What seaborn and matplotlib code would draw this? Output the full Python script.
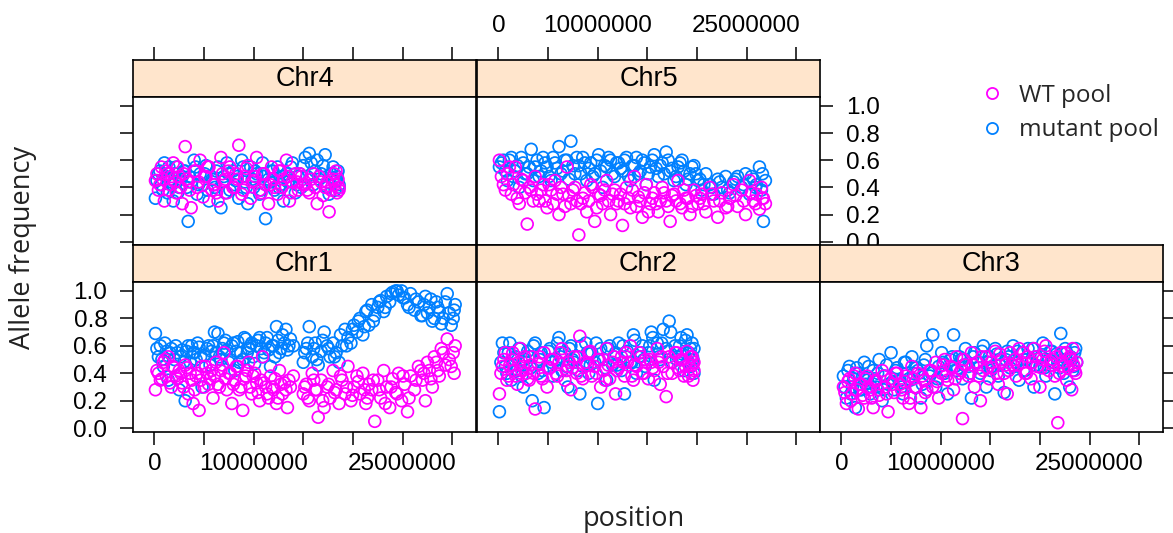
import numpy as np
import pandas as pd
import matplotlib
matplotlib.use("Agg")
import matplotlib.pyplot as plt
import seaborn as sns
from matplotlib.lines import Line2D

sns.set_theme(style="white")
plt.rcParams['font.family'] = ['Liberation Sans', 'DejaVu Sans']

# ---------------- data ----------------
chromosomes = ["Chr1", "Chr2", "Chr3", "Chr4", "Chr5"]
pool_names = ["WT pool", "mutant pool"]

# SNP positions in Mb
chr1_pos = [0.1, 0.4, 0.6, 0.9, 1.2, 1.4, 1.7, 2.0, 2.3, 2.5,
            2.8, 3.1, 3.4, 3.6, 3.9, 4.2, 4.5, 4.8, 5.0, 5.3,
            5.6, 5.9, 6.2, 6.4, 6.7, 7.0, 7.3, 7.5, 7.8, 8.1,
            8.4, 8.7, 8.9, 9.2, 9.5, 9.8, 10.1, 10.3, 10.6, 10.9,
            11.2, 11.5, 11.7, 12.0, 12.3, 12.6, 12.9, 13.1, 13.4, 13.7,
            14.0, 15.0, 15.3, 15.6, 15.9, 16.2, 16.5, 16.8, 17.1, 17.4,
            17.7, 18.0, 18.3, 18.6, 18.9, 19.2, 19.5, 19.8, 20.1, 20.4,
            20.7, 21.0, 21.3, 21.6, 21.9, 22.2, 22.5, 22.8, 23.1, 23.4,
            23.7, 24.0, 24.3, 24.6, 24.9, 25.2, 25.5, 25.8, 26.2, 26.6,
            27.0, 27.3, 27.7, 28.0, 28.4, 28.7, 29.1, 29.5, 29.9, 30.3,
            0.25, 0.75, 1.05, 1.55, 1.85, 2.15, 2.65, 2.95, 3.25, 3.75,
            4.05, 4.35, 4.65, 5.15, 5.45, 5.75, 6.05, 6.55, 6.85, 7.15,
            7.65, 7.95, 8.25, 8.55, 9.05, 9.35, 9.65, 9.95, 10.45, 10.75,
            11.05, 11.35, 11.85, 12.15, 12.45, 12.75, 13.25, 13.55, 15.15, 15.45,
            16.05, 16.35, 16.95, 17.55, 18.15, 18.75, 19.35, 19.95, 20.55, 21.15,
            21.45, 22.05, 22.65, 23.25, 23.85, 24.45, 25.05, 25.65, 26.35, 26.85,
            27.15, 27.5, 27.85, 28.2, 28.55, 28.9, 29.3, 29.7, 30.1, 30.2]
chr1_mutant = [0.69, 0.52, 0.60, 0.45, 0.56, 0.35, 0.58, 0.50, 0.55, 0.28,
               0.57, 0.20, 0.60, 0.48, 0.55, 0.50, 0.59, 0.30, 0.53, 0.58,
               0.46, 0.60, 0.55, 0.69, 0.50, 0.62, 0.57, 0.48, 0.60, 0.42,
               0.63, 0.55, 0.50, 0.65, 0.58, 0.62, 0.47, 0.60, 0.66, 0.52,
               0.62, 0.57, 0.45, 0.60, 0.74, 0.55, 0.68, 0.62, 0.57, 0.65,
               0.60, 0.48, 0.58, 0.74, 0.52, 0.62, 0.46, 0.56, 0.70, 0.60,
               0.52, 0.62, 0.55, 0.48, 0.60, 0.72, 0.66, 0.62, 0.75, 0.70,
               0.80, 0.68, 0.85, 0.75, 0.90, 0.82, 0.88, 0.93, 0.85, 0.96,
               0.92, 0.99, 1.00, 0.97, 1.00, 0.95, 0.90, 0.98, 0.86, 0.92,
               0.82, 0.96, 0.88, 0.78, 0.92, 0.85, 0.80, 0.98, 0.75, 0.90,
               0.58, 0.50, 0.62, 0.55, 0.45, 0.60, 0.52, 0.48, 0.56, 0.60,
               0.55, 0.62, 0.52, 0.45, 0.60, 0.56, 0.70, 0.52, 0.58, 0.64,
               0.50, 0.62, 0.56, 0.48, 0.66, 0.55, 0.60, 0.52, 0.64, 0.58,
               0.55, 0.66, 0.60, 0.52, 0.64, 0.58, 0.72, 0.60, 0.55, 0.62,
               0.58, 0.50, 0.64, 0.58, 0.52, 0.68, 0.60, 0.72, 0.78, 0.74,
               0.86, 0.78, 0.92, 0.88, 0.98, 1.00, 0.95, 0.88, 0.94, 0.82,
               0.90, 0.84, 0.94, 0.80, 0.88, 0.76, 0.92, 0.84, 0.80, 0.86]
chr1_wt = [0.28, 0.40, 0.35, 0.48, 0.38, 0.52, 0.30, 0.44, 0.36, 0.42,
           0.33, 0.46, 0.25, 0.40, 0.18, 0.38, 0.13, 0.45, 0.30, 0.40,
           0.36, 0.22, 0.48, 0.32, 0.42, 0.55, 0.28, 0.40, 0.18, 0.35,
           0.45, 0.30, 0.13, 0.38, 0.48, 0.25, 0.40, 0.33, 0.20, 0.52,
           0.30, 0.22, 0.38, 0.28, 0.18, 0.42, 0.25, 0.33, 0.15, 0.30,
           0.38, 0.25, 0.32, 0.20, 0.40, 0.28, 0.08, 0.35, 0.15, 0.30,
           0.22, 0.42, 0.28, 0.18, 0.35, 0.25, 0.45, 0.20, 0.30, 0.38,
           0.25, 0.40, 0.18, 0.32, 0.28, 0.05, 0.35, 0.22, 0.42, 0.30,
           0.15, 0.36, 0.26, 0.40, 0.20, 0.32, 0.12, 0.38, 0.28, 0.45,
           0.35, 0.20, 0.42, 0.30, 0.48, 0.38, 0.55, 0.65, 0.45, 0.60,
           0.42, 0.36, 0.50, 0.33, 0.45, 0.38, 0.40, 0.30, 0.44, 0.35,
           0.28, 0.40, 0.35, 0.45, 0.32, 0.42, 0.38, 0.30, 0.46, 0.36,
           0.40, 0.32, 0.45, 0.28, 0.36, 0.42, 0.30, 0.38, 0.26, 0.35,
           0.33, 0.25, 0.30, 0.36, 0.22, 0.32, 0.28, 0.35, 0.30, 0.22,
           0.35, 0.28, 0.20, 0.32, 0.26, 0.38, 0.30, 0.24, 0.34, 0.28,
           0.22, 0.35, 0.28, 0.18, 0.30, 0.25, 0.38, 0.22, 0.35, 0.42,
           0.40, 0.48, 0.36, 0.52, 0.42, 0.58, 0.46, 0.50, 0.55, 0.40]

chr2_pos = [0.1, 0.4, 0.7, 1.0, 1.3, 1.6, 1.9, 2.2, 2.5, 2.8,
            3.1, 3.4, 3.7, 4.0, 4.3, 4.6, 4.9, 5.2, 5.5, 5.8,
            6.1, 6.4, 6.7, 7.0, 7.3, 7.6, 7.9, 8.2, 8.5, 8.8,
            9.1, 9.4, 9.7, 10.0, 10.3, 10.6, 10.9, 11.2, 11.5, 11.8,
            12.1, 12.4, 12.7, 13.0, 13.3, 13.6, 13.9, 14.2, 14.5, 14.8,
            15.1, 15.4, 15.7, 16.0, 16.3, 16.6, 16.9, 17.2, 17.5, 17.8,
            18.1, 18.4, 18.7, 19.0, 19.2, 19.4, 19.5, 19.6, 19.7, 19.7,
            0.25, 0.55, 0.85, 1.15, 1.45, 1.75, 2.05, 2.35, 2.65, 2.95,
            3.25, 3.55, 4.15, 4.45, 5.05, 5.35, 5.95, 6.25, 6.85, 7.15,
            7.45, 8.05, 8.35, 8.95, 9.25, 9.85, 10.15, 10.75, 11.05, 11.65,
            11.95, 12.55, 12.85, 13.45, 13.75, 14.35, 14.65, 15.25, 15.55, 16.15,
            16.45, 17.05, 17.35, 17.95, 18.25, 18.55, 18.85, 19.15, 19.35, 19.55]
chr2_mutant = [0.12, 0.62, 0.45, 0.55, 0.35, 0.50, 0.42, 0.58, 0.30, 0.48,
               0.52, 0.20, 0.62, 0.40, 0.55, 0.15, 0.45, 0.58, 0.38, 0.50,
               0.66, 0.42, 0.55, 0.30, 0.60, 0.48, 0.52, 0.25, 0.45, 0.62,
               0.40, 0.55, 0.48, 0.18, 0.58, 0.50, 0.35, 0.60, 0.46, 0.55,
               0.62, 0.42, 0.25, 0.56, 0.48, 0.68, 0.40, 0.52, 0.60, 0.45,
               0.55, 0.70, 0.35, 0.62, 0.50, 0.72, 0.58, 0.78, 0.48, 0.60,
               0.52, 0.66, 0.42, 0.68, 0.55, 0.45, 0.62, 0.50, 0.58, 0.40,
               0.48, 0.55, 0.40, 0.62, 0.46, 0.52, 0.58, 0.38, 0.50, 0.56,
               0.44, 0.60, 0.50, 0.42, 0.56, 0.48, 0.62, 0.52, 0.45, 0.58,
               0.50, 0.42, 0.60, 0.55, 0.46, 0.62, 0.50, 0.44, 0.58, 0.52,
               0.46, 0.60, 0.52, 0.48, 0.64, 0.55, 0.50, 0.60, 0.66, 0.52,
               0.62, 0.56, 0.70, 0.50, 0.60, 0.54, 0.64, 0.48, 0.58, 0.52]
chr2_wt = [0.25, 0.45, 0.55, 0.38, 0.50, 0.42, 0.32, 0.58, 0.45, 0.40,
           0.35, 0.52, 0.14, 0.47, 0.38, 0.55, 0.30, 0.44, 0.50, 0.40,
           0.48, 0.58, 0.35, 0.45, 0.28, 0.52, 0.40, 0.67, 0.36, 0.48,
           0.55, 0.38, 0.45, 0.50, 0.30, 0.42, 0.58, 0.36, 0.48, 0.25,
           0.44, 0.52, 0.38, 0.48, 0.60, 0.35, 0.45, 0.55, 0.40, 0.50,
           0.36, 0.48, 0.42, 0.58, 0.32, 0.45, 0.23, 0.52, 0.40, 0.55,
           0.44, 0.50, 0.38, 0.56, 0.46, 0.40, 0.52, 0.35, 0.48, 0.42,
           0.40, 0.50, 0.35, 0.46, 0.55, 0.38, 0.48, 0.42, 0.52, 0.36,
           0.46, 0.40, 0.52, 0.36, 0.44, 0.50, 0.38, 0.55, 0.42, 0.48,
           0.44, 0.52, 0.38, 0.46, 0.56, 0.40, 0.50, 0.35, 0.46, 0.52,
           0.42, 0.48, 0.55, 0.38, 0.46, 0.52, 0.40, 0.50, 0.44, 0.48,
           0.52, 0.40, 0.48, 0.55, 0.42, 0.50, 0.45, 0.38, 0.52, 0.46]

chr3_pos = [0.2, 0.5, 0.8, 1.1, 1.4, 1.7, 2.0, 2.3, 2.6, 2.9,
            3.2, 3.5, 3.8, 4.1, 4.4, 4.7, 5.0, 5.3, 5.6, 5.9,
            6.2, 6.5, 6.8, 7.1, 7.4, 7.7, 8.0, 8.3, 8.6, 8.9,
            9.2, 9.5, 9.8, 10.1, 10.4, 10.7, 11.0, 11.3, 11.6, 11.9,
            12.2, 12.5, 12.8, 13.1, 13.4, 13.7, 14.0, 14.3, 14.6, 14.9,
            15.2, 15.5, 15.8, 16.1, 16.4, 16.7, 17.0, 17.3, 17.6, 17.9,
            18.2, 18.5, 18.8, 19.1, 19.4, 19.7, 20.0, 20.3, 20.6, 20.9,
            21.2, 21.5, 21.8, 22.1, 22.4, 22.7, 23.0, 23.2, 23.4, 23.6,
            0.35, 0.65, 0.95, 1.25, 1.55, 1.85, 2.15, 2.45, 2.75, 3.05,
            3.35, 3.65, 4.25, 4.55, 5.15, 5.45, 6.05, 6.35, 6.95, 7.25,
            7.55, 8.15, 8.45, 9.05, 9.65, 10.25, 10.55, 11.15, 11.45, 12.05,
            12.35, 12.95, 13.25, 13.85, 14.15, 14.75, 15.05, 15.65, 15.95, 16.55,
            16.85, 17.45, 17.75, 18.35, 18.65, 19.25, 19.55, 20.15, 20.45, 21.05,
            21.35, 21.65, 21.95, 22.25, 22.55, 22.85, 23.1, 23.3, 23.5, 23.7]
chr3_mutant = [0.38, 0.22, 0.45, 0.30, 0.15, 0.40, 0.28, 0.48, 0.35, 0.25,
               0.42, 0.30, 0.50, 0.20, 0.38, 0.32, 0.55, 0.28, 0.44, 0.35,
               0.25, 0.48, 0.36, 0.52, 0.30, 0.42, 0.22, 0.46, 0.60, 0.38,
               0.68, 0.30, 0.45, 0.55, 0.40, 0.25, 0.50, 0.68, 0.42, 0.52,
               0.36, 0.58, 0.45, 0.22, 0.55, 0.48, 0.40, 0.60, 0.30, 0.52,
               0.45, 0.58, 0.38, 0.50, 0.26, 0.56, 0.44, 0.60, 0.48, 0.35,
               0.55, 0.42, 0.58, 0.48, 0.30, 0.52, 0.45, 0.62, 0.38, 0.50,
               0.56, 0.25, 0.48, 0.69, 0.40, 0.55, 0.30, 0.50, 0.45, 0.58,
               0.30, 0.42, 0.25, 0.36, 0.44, 0.28, 0.38, 0.32, 0.45, 0.30,
               0.36, 0.40, 0.28, 0.46, 0.34, 0.42, 0.30, 0.48, 0.35, 0.40,
               0.44, 0.32, 0.50, 0.40, 0.36, 0.48, 0.42, 0.52, 0.45, 0.50,
               0.46, 0.40, 0.52, 0.44, 0.56, 0.48, 0.42, 0.54, 0.46, 0.50,
               0.52, 0.45, 0.56, 0.42, 0.50, 0.58, 0.46, 0.52, 0.44, 0.56,
               0.48, 0.54, 0.44, 0.50, 0.58, 0.46, 0.52, 0.42, 0.55, 0.48]
chr3_wt = [0.30, 0.18, 0.36, 0.25, 0.40, 0.14, 0.32, 0.22, 0.38, 0.28,
           0.15, 0.35, 0.24, 0.42, 0.30, 0.12, 0.36, 0.26, 0.40, 0.32,
           0.22, 0.38, 0.18, 0.45, 0.30, 0.40, 0.15, 0.35, 0.28, 0.42,
           0.30, 0.48, 0.22, 0.40, 0.50, 0.35, 0.45, 0.28, 0.52, 0.40,
           0.07, 0.46, 0.38, 0.55, 0.30, 0.48, 0.20, 0.42, 0.52, 0.36,
           0.44, 0.56, 0.32, 0.50, 0.40, 0.25, 0.55, 0.46, 0.38, 0.58,
           0.48, 0.40, 0.52, 0.36, 0.58, 0.45, 0.30, 0.50, 0.60, 0.42,
           0.50, 0.38, 0.04, 0.55, 0.45, 0.35, 0.52, 0.28, 0.46, 0.40,
           0.26, 0.34, 0.20, 0.38, 0.28, 0.32, 0.24, 0.36, 0.30, 0.22,
           0.34, 0.28, 0.38, 0.25, 0.32, 0.40, 0.28, 0.34, 0.22, 0.36,
           0.30, 0.38, 0.26, 0.42, 0.34, 0.46, 0.38, 0.44, 0.36, 0.42,
           0.50, 0.40, 0.46, 0.38, 0.52, 0.44, 0.48, 0.40, 0.54, 0.46,
           0.42, 0.50, 0.46, 0.55, 0.40, 0.48, 0.52, 0.44, 0.56, 0.48,
           0.46, 0.52, 0.40, 0.48, 0.55, 0.44, 0.50, 0.58, 0.42, 0.48]

chr4_pos = [0.1, 0.4, 0.7, 1.0, 1.3, 1.6, 1.9, 2.2, 2.5, 2.8,
            3.1, 3.4, 3.7, 4.0, 4.3, 4.6, 4.9, 5.2, 5.5, 5.8,
            6.1, 6.4, 6.7, 7.0, 7.3, 7.6, 7.9, 8.2, 8.5, 8.8,
            9.1, 9.4, 9.7, 10.0, 10.3, 10.6, 10.9, 11.2, 11.5, 11.8,
            12.1, 12.4, 12.7, 13.0, 13.3, 13.6, 13.9, 14.2, 14.5, 14.8,
            15.2, 15.6, 16.0, 16.4, 16.8, 17.2, 17.6, 18.0, 18.3, 18.6,
            0.25, 0.55, 0.85, 1.15, 1.45, 1.75, 2.05, 2.35, 2.65, 2.95,
            3.25, 3.55, 4.15, 4.45, 5.05, 5.35, 5.95, 6.25, 6.85, 7.15,
            7.45, 8.05, 8.35, 8.95, 9.25, 9.85, 10.15, 10.75, 11.05, 11.65,
            11.95, 12.55, 12.85, 13.45, 13.75, 14.35, 14.65, 15.0, 15.4, 15.8,
            16.2, 16.6, 17.0, 17.4, 17.8, 18.1, 18.2, 18.4, 18.5, 18.6]
chr4_mutant = [0.32, 0.50, 0.42, 0.58, 0.36, 0.46, 0.30, 0.55, 0.40, 0.48,
               0.52, 0.15, 0.44, 0.60, 0.35, 0.50, 0.42, 0.56, 0.30, 0.46,
               0.40, 0.55, 0.25, 0.48, 0.58, 0.38, 0.52, 0.45, 0.32, 0.60,
               0.44, 0.28, 0.55, 0.40, 0.50, 0.35, 0.58, 0.17, 0.46, 0.52,
               0.38, 0.55, 0.42, 0.30, 0.50, 0.45, 0.58, 0.36, 0.48, 0.40,
               0.62, 0.65, 0.42, 0.60, 0.50, 0.64, 0.35, 0.55, 0.45, 0.40,
               0.45, 0.52, 0.38, 0.48, 0.55, 0.42, 0.50, 0.36, 0.46, 0.52,
               0.40, 0.48, 0.55, 0.42, 0.50, 0.38, 0.46, 0.52, 0.44, 0.36,
               0.50, 0.42, 0.48, 0.55, 0.40, 0.46, 0.52, 0.38, 0.48, 0.44,
               0.52, 0.40, 0.48, 0.44, 0.55, 0.42, 0.50, 0.56, 0.48, 0.58,
               0.52, 0.46, 0.56, 0.40, 0.50, 0.44, 0.38, 0.48, 0.52, 0.42]
chr4_wt = [0.45, 0.38, 0.55, 0.30, 0.50, 0.42, 0.58, 0.36, 0.48, 0.28,
           0.70, 0.44, 0.25, 0.52, 0.40, 0.60, 0.33, 0.48, 0.55, 0.38,
           0.42, 0.30, 0.62, 0.45, 0.36, 0.55, 0.40, 0.50, 0.71, 0.35,
           0.48, 0.56, 0.32, 0.45, 0.62, 0.38, 0.50, 0.42, 0.28, 0.55,
           0.40, 0.35, 0.52, 0.46, 0.60, 0.30, 0.44, 0.50, 0.38, 0.48,
           0.42, 0.36, 0.50, 0.28, 0.44, 0.40, 0.22, 0.46, 0.52, 0.38,
           0.50, 0.42, 0.46, 0.52, 0.38, 0.48, 0.44, 0.55, 0.40, 0.50,
           0.46, 0.38, 0.52, 0.44, 0.48, 0.55, 0.42, 0.36, 0.50, 0.46,
           0.52, 0.40, 0.46, 0.38, 0.54, 0.44, 0.48, 0.36, 0.50, 0.42,
           0.46, 0.52, 0.40, 0.48, 0.36, 0.44, 0.50, 0.42, 0.38, 0.46,
           0.40, 0.48, 0.34, 0.44, 0.38, 0.50, 0.42, 0.36, 0.46, 0.40]

chr5_pos = [0.1, 0.5, 0.9, 1.3, 1.7, 2.1, 2.5, 2.9, 3.3, 3.7,
            4.1, 4.5, 4.9, 5.3, 5.7, 6.1, 6.5, 6.9, 7.3, 7.7,
            8.1, 8.5, 8.9, 9.3, 9.7, 10.1, 10.5, 10.9, 11.3, 11.7,
            12.1, 12.5, 12.9, 13.3, 13.7, 14.1, 14.5, 14.9, 15.3, 15.7,
            16.1, 16.5, 16.9, 17.3, 17.7, 18.1, 18.5, 18.9, 19.3, 19.7,
            20.1, 20.5, 20.9, 21.3, 21.7, 22.1, 22.5, 22.9, 23.3, 23.7,
            24.1, 24.5, 24.9, 25.3, 25.7, 26.0, 26.3, 26.5, 26.7, 26.9,
            0.3, 0.7, 1.1, 1.5, 1.9, 2.3, 2.7, 3.1, 3.5, 3.9,
            4.3, 4.7, 5.1, 5.5, 5.9, 6.3, 6.7, 7.1, 7.5, 7.9,
            8.3, 8.7, 9.1, 9.5, 9.9, 10.3, 10.7, 11.1, 11.5, 11.9,
            12.3, 12.7, 13.1, 13.5, 13.9, 14.3, 14.7, 15.1, 15.5, 15.9,
            16.3, 16.7, 17.1, 17.5, 17.9, 18.3, 18.7, 19.1, 19.5, 19.9,
            20.3, 20.7, 21.5, 22.3, 23.1, 23.9, 24.7, 25.5, 25.9, 26.6]
chr5_mutant = [0.55, 0.60, 0.45, 0.62, 0.52, 0.40, 0.58, 0.50, 0.68, 0.55,
               0.48, 0.62, 0.55, 0.45, 0.58, 0.70, 0.52, 0.60, 0.74, 0.50,
               0.56, 0.62, 0.45, 0.58, 0.50, 0.64, 0.40, 0.55, 0.60, 0.48,
               0.58, 0.52, 0.62, 0.45, 0.56, 0.50, 0.60, 0.42, 0.55, 0.64,
               0.48, 0.58, 0.66, 0.52, 0.45, 0.55, 0.60, 0.42, 0.50, 0.56,
               0.45, 0.38, 0.50, 0.42, 0.35, 0.46, 0.40, 0.48, 0.36, 0.44,
               0.48, 0.40, 0.50, 0.35, 0.46, 0.42, 0.55, 0.38, 0.15, 0.45,
               0.58, 0.52, 0.60, 0.48, 0.56, 0.62, 0.50, 0.55, 0.45, 0.60,
               0.52, 0.58, 0.48, 0.62, 0.54, 0.50, 0.60, 0.46, 0.56, 0.62,
               0.50, 0.58, 0.54, 0.48, 0.60, 0.52, 0.56, 0.62, 0.50, 0.58,
               0.54, 0.60, 0.48, 0.56, 0.62, 0.52, 0.58, 0.50, 0.60, 0.54,
               0.56, 0.50, 0.60, 0.54, 0.48, 0.58, 0.52, 0.46, 0.55, 0.50,
               0.46, 0.42, 0.40, 0.44, 0.38, 0.46, 0.42, 0.48, 0.40, 0.50]
chr5_wt = [0.60, 0.42, 0.50, 0.35, 0.55, 0.28, 0.45, 0.13, 0.38, 0.48,
           0.30, 0.42, 0.25, 0.38, 0.45, 0.20, 0.35, 0.55, 0.28, 0.40,
           0.05, 0.32, 0.22, 0.42, 0.15, 0.35, 0.28, 0.45, 0.20, 0.38,
           0.30, 0.12, 0.40, 0.25, 0.48, 0.33, 0.18, 0.42, 0.28, 0.36,
           0.22, 0.40, 0.30, 0.15, 0.35, 0.45, 0.25, 0.32, 0.20, 0.38,
           0.28, 0.35, 0.22, 0.40, 0.30, 0.18, 0.36, 0.25, 0.32, 0.42,
           0.26, 0.38, 0.20, 0.45, 0.30, 0.35, 0.24, 0.40, 0.32, 0.28,
           0.48, 0.38, 0.55, 0.42, 0.32, 0.46, 0.36, 0.40, 0.30, 0.35,
           0.38, 0.30, 0.42, 0.28, 0.35, 0.40, 0.26, 0.34, 0.38, 0.30,
           0.28, 0.36, 0.30, 0.40, 0.25, 0.34, 0.38, 0.30, 0.35, 0.28,
           0.35, 0.28, 0.32, 0.38, 0.26, 0.30, 0.36, 0.22, 0.32, 0.28,
           0.30, 0.36, 0.26, 0.34, 0.30, 0.28, 0.38, 0.32, 0.26, 0.34,
           0.32, 0.28, 0.35, 0.30, 0.26, 0.34, 0.30, 0.36, 0.28, 0.32]

x_ticks = [0, 5000000, 10000000, 15000000, 20000000, 25000000, 30000000]
x_tick_labels = ["0", "", "10000000", "", "", "25000000", ""]
y_ticks = [0.0, 0.2, 0.4, 0.6, 0.8, 1.0]
y_tick_labels = ["0.0", "0.2", "0.4", "0.6", "0.8", "1.0"]

# ---------------- long-form table ----------------
series = {
    "Chr1": (chr1_pos, chr1_wt, chr1_mutant),
    "Chr2": (chr2_pos, chr2_wt, chr2_mutant),
    "Chr3": (chr3_pos, chr3_wt, chr3_mutant),
    "Chr4": (chr4_pos, chr4_wt, chr4_mutant),
    "Chr5": (chr5_pos, chr5_wt, chr5_mutant),
}
rows = []
for chrom, (pos, wt, mut) in series.items():
    for p, w, m in zip(pos, wt, mut):
        rows.append((chrom, p * 1e6, "WT pool", w))
        rows.append((chrom, p * 1e6, "mutant pool", m))
df = pd.DataFrame(rows, columns=["chrom", "position", "pool", "freq"])

colors = {"WT pool": "#FF00FF", "mutant pool": "#0080FF"}
strip_color = "#FFE5CC"

# ---------------- layout ----------------
W, H = 1173, 533
fig = plt.figure(figsize=(W / 100, H / 100), dpi=100)
fig.patch.set_facecolor("white")

col_left = [133, 477, 820]
col_w = 343
# (strip_top, strip_bottom, panel_bottom) in pixels
row_geom = {"top": (60, 97, 245), "bottom": (245, 282, 431.5)}
layout = {"Chr4": (0, "top"), "Chr5": (1, "top"),
          "Chr1": (0, "bottom"), "Chr2": (1, "bottom"), "Chr3": (2, "bottom")}

xlim = (-2.16e6, 32.4e6)
ylim = (-0.024, 1.065)
tick_fs = 17.5
strip_fs = 19.5
tick_len = 9.5
lw_frame = 1.2

def frac(px_l, px_t, px_w, px_h):
    return [px_l / W, 1 - (px_t + px_h) / H, px_w / W, px_h / H]

order = ["Chr4", "Chr5", "Chr1", "Chr2", "Chr3"]
for chrom in order:
    col, row = layout[chrom]
    st, sb, pb = row_geom[row]
    left = col_left[col]
    # strip
    sax = fig.add_axes(frac(left, st, col_w, sb - st))
    sax.set_facecolor(strip_color)
    sax.set_xlim(xlim)
    sax.set_ylim(0, 1)
    sax.set_yticks([])
    sax.set_xticks(x_ticks)
    sax.set_xticklabels(x_tick_labels, fontsize=tick_fs)
    sax.tick_params(axis="x", direction="out", length=tick_len, width=1.1,
                    color="black", labelcolor="black", pad=7,
                    bottom=False, labelbottom=False,
                    top=(row == "top"), labeltop=(chrom == "Chr5"))
    sax.text(0.5, 0.48, chrom, transform=sax.transAxes, ha="center",
             va="center", fontsize=strip_fs, color="black")
    for sp in sax.spines.values():
        sp.set_color("black"); sp.set_linewidth(lw_frame)

    # panel
    ax = fig.add_axes(frac(left, sb, col_w, pb - sb))
    ax.set_facecolor("white")
    sub = df[df["chrom"] == chrom]
    for pool in ["mutant pool", "WT pool"]:
        d = sub[sub["pool"] == pool]
        sns.scatterplot(data=d, x="position", y="freq", ax=ax,
                        color=colors[pool], marker="o", s=72,
                        facecolor="none", edgecolor=colors[pool],
                        linewidth=1.25, legend=False)
    ax.collections[0].set_facecolor("none")
    ax.collections[0].set_edgecolor(colors["mutant pool"])
    ax.collections[1].set_facecolor("none")
    ax.collections[1].set_edgecolor(colors["WT pool"])
    ax.set_xlim(xlim)
    ax.set_ylim(ylim)
    ax.set_xlabel("")
    ax.set_ylabel("")
    ax.set_xticks(x_ticks)
    ax.set_xticklabels(x_tick_labels, fontsize=tick_fs)
    ax.set_yticks(y_ticks)
    ax.set_yticklabels(y_tick_labels, fontsize=tick_fs)
    ax.tick_params(axis="x", direction="out", length=tick_len, width=1.1,
                   color="black", labelcolor="black", pad=6,
                   top=False, labeltop=False,
                   bottom=(row == "bottom"),
                   labelbottom=(chrom in ("Chr1", "Chr3")))
    ax.tick_params(axis="y", direction="out", length=tick_len, width=1.1,
                   color="black", labelcolor="black", pad=9,
                   left=(chrom in ("Chr1", "Chr4")),
                   labelleft=(chrom == "Chr1"),
                   right=(chrom in ("Chr5", "Chr3")),
                   labelright=(chrom == "Chr5"))
    for sp in ax.spines.values():
        sp.set_color("black"); sp.set_linewidth(lw_frame)

# axis titles
label_font = ["Open Sans", "DejaVu Sans"]
fig.text(23 / W, 1 - 247 / H, "Allele frequency", rotation=90,
         ha="center", va="center", fontsize=19.5, family=label_font,
         color="#222222")
fig.text(634 / W, 1 - 519 / H, "position", ha="center", va="center",
         fontsize=19.5, family=label_font, color="#222222")

# legend
handles = [Line2D([], [], marker="o", linestyle="", markerfacecolor="none",
                  markeredgecolor=colors[p], markersize=8, markeredgewidth=1.3)
           for p in pool_names]
fig.legend(handles, pool_names, loc="center left",
           bbox_to_anchor=(980 / W, 1 - 113 / H), frameon=False,
           prop={"family": label_font, "size": 17.5},
           handlelength=1.0, handletextpad=0.6, labelspacing=0.45,
           borderaxespad=0, borderpad=0)

fig.savefig("out.png", dpi=100, facecolor="white")
